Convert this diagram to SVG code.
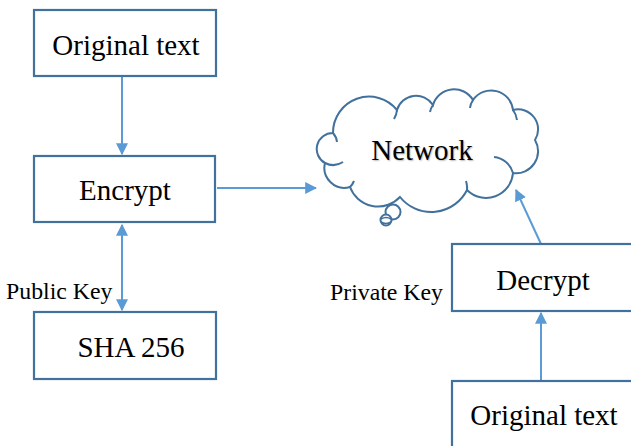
<svg xmlns="http://www.w3.org/2000/svg" width="631" height="446" viewBox="0 0 631 446">
<style>
.box{fill:#fff;stroke:#41719C;stroke-width:2.2}
.t{font-family:"Liberation Serif","Times New Roman",serif;font-size:29px;fill:#000;text-anchor:middle}
.l{font-family:"Liberation Serif","Times New Roman",serif;font-size:23.8px;fill:#000}
.c{fill:none;stroke:#5B9BD5;stroke-width:2}
.cloud{fill:#fff;stroke:#41719C;stroke-width:2}
</style>
<defs>
<marker id="ah" viewBox="0 0 10 10" refX="9" refY="5" markerWidth="6" markerHeight="6" orient="auto-start-reverse" markerUnits="strokeWidth">
<path d="M0,0 L10,5 L0,10 Z" fill="#5B9BD5"/>
</marker>
</defs>
<rect width="631" height="446" fill="#fff"/>
<g id="connectors">
<line class="c" x1="122" y1="77" x2="122" y2="154" marker-end="url(#ah)"/>
<line class="c" x1="122" y1="225" x2="122" y2="310" marker-start="url(#ah)" marker-end="url(#ah)"/>
<line class="c" x1="217" y1="188" x2="316" y2="188" marker-end="url(#ah)"/>
<line class="c" x1="541" y1="381" x2="541" y2="313" marker-end="url(#ah)"/>
<line class="c" x1="541" y1="244" x2="516" y2="190" marker-end="url(#ah)"/>
</g>
<g id="original1">
<rect class="box" x="34" y="10" width="182" height="66"/>
<text class="t" x="126" y="55">Original text</text>
</g>
<g id="encrypt">
<rect class="box" x="34" y="156" width="181" height="66"/>
<text class="t" x="125" y="200">Encrypt</text>
</g>
<g id="sha">
<rect class="box" x="34" y="312" width="182" height="67"/>
<text class="t" x="131" y="357">SHA 256</text>
</g>
<text class="l" x="6" y="299">Public Key</text>
<g id="network">
<path class="cloud" d="M350,187 A20,20 0 0 1 325,163 A16,16 0 0 1 333,133 A36,36 0 0 1 397,110 A20,20 0 0 1 433,105 A22,22 0 0 1 473,100 A22,22 0 0 1 513,110 A20,20 0 0 1 535,140 A22,22 0 0 1 513,173 A27,27 0 0 1 467,190 A40,40 0 0 1 400,197 A30,30 0 0 1 350,187 Z"/>
<path fill="none" stroke="#41719C" stroke-width="2" d="M325,163 A18,18 0 0 0 343,162 M333,133 A16,16 0 0 1 337,142 M397,110 A20,20 0 0 1 394,119 M433,105 A18,18 0 0 0 430,112 M473,100 A18,18 0 0 0 470,108 M513,110 A20,20 0 0 1 517,120 M513,173 A22,22 0 0 0 494,157 M467,190 A22,22 0 0 0 466,181 M350,187 A18,18 0 0 0 354,181"/>
<circle cx="393" cy="212" r="7.5" fill="#fff" stroke="#41719C" stroke-width="2"/>
<circle cx="386" cy="220" r="5.5" fill="#fff" stroke="#41719C" stroke-width="2"/>
<path fill="none" stroke="#41719C" stroke-width="1.5" d="M381,219 Q386,216 391,219 M381,222 Q386,225 391,222"/>
<text class="t" x="422" y="160" style="text-shadow:1px 1px 1.5px #bbb">Network</text>
</g>
<g id="decrypt">
<rect class="box" x="452" y="244" width="190" height="67"/>
<text class="t" x="543" y="290">Decrypt</text>
</g>
<text class="l" x="330" y="300">Private Key</text>
<g id="original2">
<rect class="box" x="452" y="381" width="190" height="80"/>
<text class="t" x="544" y="425">Original text</text>
</g>
</svg>
